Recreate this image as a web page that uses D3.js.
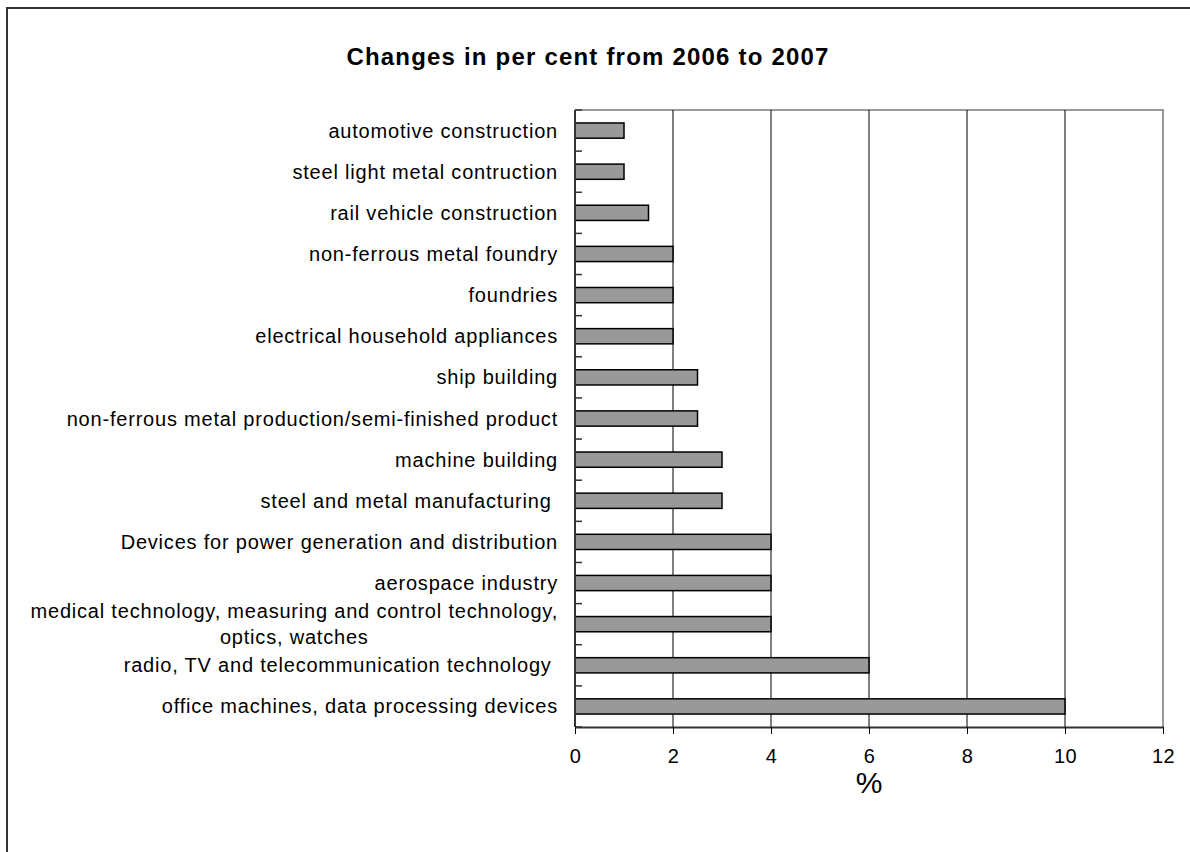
<!DOCTYPE html>
<html>
<head>
<meta charset="utf-8">
<script src="https://cdn.jsdelivr.net/npm/d3@7"></script>
<style>
  body { margin: 0; background: #fff; }
  text { font-family: "Liberation Sans", Arial, sans-serif; fill: #000; }
</style>
</head>
<body>
<div id="chart"></div>
<script>
// data, top to bottom
const categories = [
  "automotive construction",
  "steel light metal contruction",
  "rail vehicle construction",
  "non-ferrous metal foundry",
  "foundries",
  "electrical household appliances",
  "ship building",
  "non-ferrous metal production/semi-finished product",
  "machine building",
  "steel and metal manufacturing ",
  "Devices for power generation and distribution",
  "aerospace industry",
  "medical technology, measuring and control technology,|optics, watches",
  "radio, TV and telecommunication technology ",
  "office machines, data processing devices"
];
const values = [1, 1, 1.5, 2, 2, 2, 2.5, 2.5, 3, 3, 4, 4, 4, 6, 10];
const xTicks = [0, 2, 4, 6, 8, 10, 12];

const svgWidth = 1190;
const svgHeight = 852;
const margin = { top: 110, left: 575, right: 27, bottom: 125 };
const width = svgWidth - margin.left - margin.right; // 588
const height = svgHeight - margin.top - margin.bottom; // 617

const svg = d3
  .select("#chart")
  .append("svg")
  .attr("width", svgWidth)
  .attr("height", svgHeight);

// outer frame (runs off the right and bottom edge)
svg.append("rect")
  .attr("x", 7).attr("y", 8)
  .attr("width", 1300).attr("height", 1000)
  .attr("fill", "none")
  .attr("stroke", "#333")
  .attr("stroke-width", 2);

svg.append("text")
  .attr("x", 588).attr("y", 65)
  .attr("text-anchor", "middle")
  .style("font-size", "24px")
  .style("font-weight", "bold")
  .style("letter-spacing", "1.2px")
  .text("Changes in per cent from 2006 to 2007");

const g = svg.append("g").attr("transform", `translate(${margin.left},${margin.top})`);

const x = d3.scaleLinear().domain([0, 12]).range([0, width]);
const y = d3.scaleBand().domain(categories).range([0, height]).paddingInner(0.63).paddingOuter(0.315);

// plot border top/right
g.append("path")
  .attr("d", `M0,0H${width}V${height}`)
  .attr("fill", "none")
  .attr("stroke", "#999")
  .attr("stroke-width", 2);

// gridlines
g.selectAll(".grid")
  .data(xTicks.slice(1, -1))
  .enter()
  .append("line")
  .attr("x1", d => x(d)).attr("x2", d => x(d))
  .attr("y1", 0).attr("y2", height)
  .attr("stroke", "#000")
  .attr("stroke-width", 1);

// bars
g.selectAll("rect.bar")
  .data(values)
  .enter()
  .append("rect")
  .attr("class", "bar")
  .attr("x", x(0))
  .attr("y", (d, i) => y(categories[i]))
  .attr("width", d => x(d) - x(0))
  .attr("height", y.bandwidth())
  .attr("fill", "#999999")
  .attr("stroke", "#000")
  .attr("stroke-width", 1.5);

// x axis
const xAxis = g.append("g")
  .attr("transform", `translate(0,${height})`)
  .call(d3.axisBottom(x).tickValues(xTicks).tickSize(7).tickPadding(15).tickSizeOuter(0));
xAxis.select(".domain").attr("stroke", "#333").attr("stroke-width", 2);
xAxis.selectAll(".tick line").attr("stroke", "#000");
xAxis.selectAll(".tick text")
  .style("font-size", "20px")
  .style("letter-spacing", "0.5px")
  .style("font-family", "Liberation Sans, Arial, sans-serif");

// y axis: ticks at band boundaries, pointing inward
const step = height / categories.length;
const boundaries = d3.range(categories.length + 1).map(i => i * step);
g.append("line")
  .attr("x1", 0).attr("x2", 0).attr("y1", 0).attr("y2", height)
  .attr("stroke", "#333").attr("stroke-width", 2);
g.selectAll(".ytick")
  .data(boundaries)
  .enter()
  .append("line")
  .attr("x1", 0).attr("x2", 7)
  .attr("y1", d => d).attr("y2", d => d)
  .attr("stroke", "#333").attr("stroke-width", 1.5);

// category labels
const labels = g.selectAll(".lab")
  .data(categories)
  .enter()
  .append("text")
  .attr("class", "lab")
  .style("font-size", "20px")
  .style("letter-spacing", "0.8px")
  .style("white-space", "pre");

labels.each(function (d) {
  const t = d3.select(this);
  const lines = d.split("|");
  const cy = y(d) + y.bandwidth() / 2;
  if (lines.length === 1) {
    t.attr("x", -17).attr("y", cy + 7).attr("text-anchor", "end").text(d);
  } else {
    // measure widest line, center lines in that block
    const spans = lines.map((l, k) =>
      t.append("tspan").attr("y", cy + 7 + (k - (lines.length - 1) / 2) * 26).text(l));
    const w = d3.max(spans, s => s.node().getComputedTextLength());
    spans.forEach(s => s.attr("x", -17 - w / 2).attr("text-anchor", "middle"));
  }
});

// axis title
svg.append("text")
  .attr("x", 869).attr("y", 793)
  .attr("text-anchor", "middle")
  .style("font-size", "30px")
  .text("%");
</script>
</body>
</html>
